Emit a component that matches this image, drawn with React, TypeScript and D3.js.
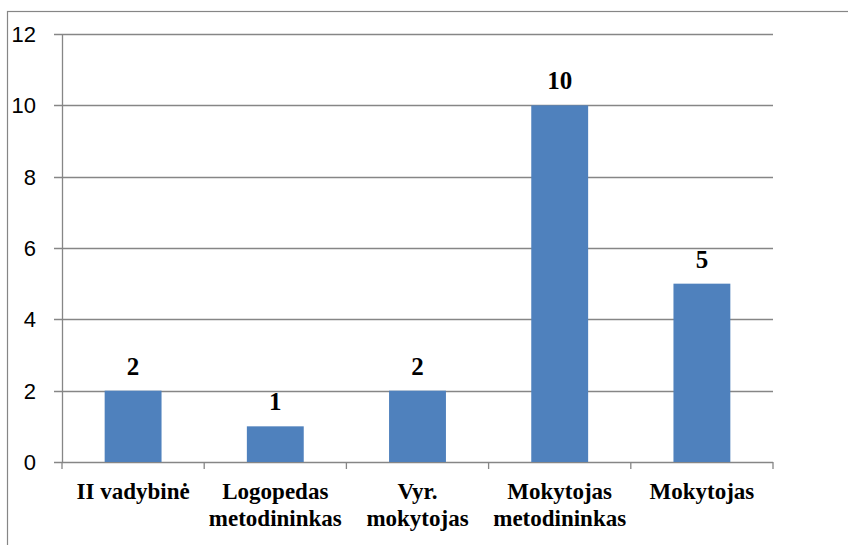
import React from "react";
import * as d3 from "d3";

const categories: string[][] = [
  ["II vadybinė"],
  ["Logopedas", "metodininkas"],
  ["Vyr.", "mokytojas"],
  ["Mokytojas", "metodininkas"],
  ["Mokytojas"],
];
const values: number[] = [2, 1, 2, 10, 5];
const yTicks: number[] = [0, 2, 4, 6, 8, 10, 12];

export default function App() {
  const W = 848;
  const H = 545;
  const left = 62;
  const right = 773;
  const top = 34;
  const bottom = 462;
  const ids = categories.map((_, i) => String(i));
  const x = d3.scaleBand<string>().domain(ids).range([left, right]).paddingInner(0.6).paddingOuter(0.3);
  const y = d3.scaleLinear().domain([0, 12]).range([bottom, top]);
  const step = x.step();
  const grid = "#868686";
  const boundaries = d3.range(categories.length + 1).map((i) => left + i * step);

  return (
    <svg width={W} height={H} style={{ position: "absolute", left: 0, top: 0, background: "#fff" }}>
      <rect x={7.5} y={11.5} width={W + 20} height={H + 20} fill="#fff" stroke={grid} strokeWidth={1.2} />
      {yTicks.map((t) => (
        <g key={t}>
          <line x1={left - 8} x2={right} y1={Math.round(y(t)) + 0.5} y2={Math.round(y(t)) + 0.5} stroke={grid} strokeWidth={1.3} />
          <text
            x={36}
            y={y(t)}
            dy="0.36em"
            textAnchor="end"
            fontFamily="'Liberation Sans', Arial, sans-serif"
            fontSize={22}
            fill="#000"
          >
            {t}
          </text>
        </g>
      ))}
      <line x1={left + 0.5} x2={left + 0.5} y1={top} y2={bottom} stroke={grid} strokeWidth={1.3} />
      {boundaries.map((b, i) => (
        <line key={i} x1={b} x2={b} y1={bottom} y2={bottom + 7} stroke={grid} strokeWidth={1.3} />
      ))}
      {values.map((v, i) => (
        <g key={i}>
          <rect x={x(String(i))!} y={y(v)} width={x.bandwidth()} height={bottom - y(v)} fill="#4F81BD" />
          <text
            x={x(String(i))! + x.bandwidth() / 2}
            y={y(v) - 16}
            textAnchor="middle"
            fontFamily="'Liberation Serif', 'Times New Roman', serif"
            fontWeight="bold"
            fontSize={25}
            fill="#000"
          >
            {v}
          </text>
        </g>
      ))}
      {categories.map((lines, i) => (
        <text
          key={i}
          x={x(String(i))! + x.bandwidth() / 2}
          y={499}
          textAnchor="middle"
          fontFamily="'Liberation Serif', 'Times New Roman', serif"
          fontWeight="bold"
          fontSize={23}
          fill="#000"
        >
          {lines.map((l, j) => (
            <tspan key={j} x={x(String(i))! + x.bandwidth() / 2} dy={j === 0 ? 0 : 27}>
              {l}
            </tspan>
          ))}
        </text>
      ))}
    </svg>
  );
}
